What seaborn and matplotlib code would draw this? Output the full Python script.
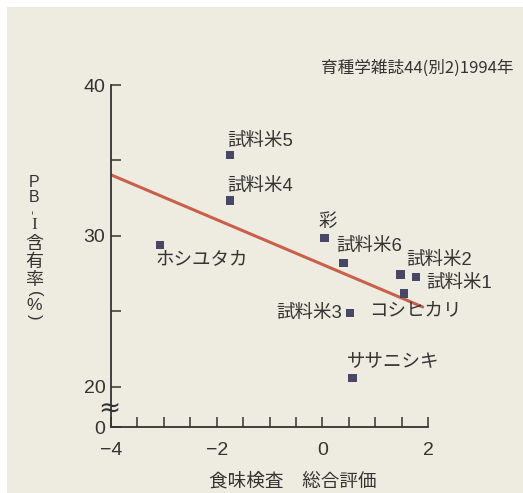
import numpy as np
import pandas as pd
import seaborn as sns
import matplotlib.pyplot as plt
from matplotlib.patches import Rectangle

# data
names = ["試料米5", "試料米4", "ホシユタカ", "彩", "試料米6", "試料米2", "試料米1", "コシヒカリ", "試料米3", "ササニシキ"]
taste_score = [-1.75, -1.75, -3.07, 0.04, 0.40, 1.48, 1.77, 1.54, 0.52, 0.57]
pb1_content = [35.35, 32.35, 29.4, 29.85, 28.2, 27.45, 27.3, 26.2, 24.9, 20.6]

fit_x = [-4.0, 1.9]
fit_y = [34.05, 25.3]

ylabel_chars = ["P", "B", "-", "I", "含", "有", "率", "(", "%", ")"]

df = pd.DataFrame({"name": names, "x": taste_score, "y": pb1_content})
fit = pd.DataFrame({"x": fit_x, "y": fit_y})

sns.set_theme(style="ticks")
plt.rcParams["font.family"] = ["Liberation Sans", "Noto Sans CJK JP", "DejaVu Sans"]

bg = "#EEECE1"
ink = "#333333"

fig = plt.figure(figsize=(5.23, 4.93), dpi=100)
fig.patch.set_facecolor("white")
fig.patches.append(Rectangle((7 / 523, 0), 1, 1 - 7 / 493, transform=fig.transFigure,
                             facecolor=bg, edgecolor="none", zorder=-10))

ax = fig.add_axes([111 / 523, 1 - 427 / 493, 317 / 523, 342 / 493])
ax.set_facecolor("none")

sns.lineplot(data=fit, x="x", y="y", color="#C9604A", linewidth=2.2, ax=ax, zorder=2)
sns.scatterplot(data=df, x="x", y="y", marker="s", s=36, color="#484866",
                edgecolor="none", ax=ax, zorder=3)

# label offsets in pixels (dx, dy, ha)
offsets = {
    "試料米5": (-3, 14, "left"),
    "試料米4": (-3, 14, "left"),
    "ホシユタカ": (-5, -15, "left"),
    "彩": (3, 16, "center"),
    "試料米6": (-7, 17, "left"),
    "試料米2": (6, 14, "left"),
    "試料米1": (10, -7, "left"),
    "コシヒカリ": (12, -17, "center"),
    "試料米3": (-8, 0, "right"),
    "ササニシキ": (-6, 16, "left"),
}
for n, x, y in zip(names, taste_score, pb1_content):
    dx, dy, ha = offsets[n]
    ax.annotate(n, (x, y), xytext=(dx, dy), textcoords="offset pixels",
                ha=ha, va="center", fontsize=13.3, color=ink)

ybot = 17.35
ax.set_xlim(-4, 2)
ax.set_ylim(ybot, 40)
ax.set_xticks([-4, -2, 0, 2])
ax.set_xticklabels(["\u22124", "\u22122", "0", "2"])
ax.set_xticks(np.arange(-3.5, 2, 0.5), minor=True)
ax.set_yticks([ybot, 20, 30, 40])
ax.set_yticklabels(["0", "20", "30", "40"])
ax.set_yticks([25, 35], minor=True)

ax.tick_params(axis="both", which="both", direction="in", length=7, width=1.1, color=ink,
               labelsize=14, labelcolor=ink)
ax.tick_params(axis="x", which="major", pad=11)
ax.tick_params(axis="y", which="major", pad=4)

for side in ["top", "right"]:
    ax.spines[side].set_visible(False)
for side in ["left", "bottom"]:
    ax.spines[side].set_color(ink)
    ax.spines[side].set_linewidth(1.3)

ax.set_xlabel("")
ax.set_ylabel("")

# axis break mark
ax.text(-0.005, (427 - 409) / 342, "≈", transform=ax.transAxes, ha="center", va="center",
        fontsize=19, color=ink, family=["DejaVu Sans"])

fig.text(293 / 523, 1 - 482 / 493, "食味検査　総合評価", ha="center", va="center",
         fontsize=13.4, color=ink, family=["Noto Sans CJK JP"])

# vertical y label, one character per line: (y centre px, size, rotation, family)
ylabel_layout = [(182.5, 11.5, 0, "Liberation Sans"), (197.5, 11.5, 0, "Liberation Sans"),
                 (212.5, 9, 90, "Liberation Sans"), (225, 12.5, 0, "Liberation Serif"),
                 (243.5, 13, 0, "Noto Sans CJK JP"), (261.5, 13, 0, "Noto Sans CJK JP"),
                 (279.5, 13, 0, "Noto Sans CJK JP"), (294, 12, -90, "Liberation Sans"),
                 (305.5, 12.5, 0, "Liberation Sans"), (317, 12, -90, "Liberation Sans")]
for ch, (py, size, rot, fam) in zip(ylabel_chars, ylabel_layout):
    fig.text(34 / 523, 1 - py / 493, ch, ha="center", va="center", rotation=rot,
             fontsize=size, color=ink, family=[fam, "Noto Sans CJK JP"])

fig.text(513 / 523, 1 - 68 / 493, "育種学雑誌44(別2)1994年", ha="right", va="center",
         fontsize=12, color=ink, family=["Noto Sans CJK JP"])

fig.savefig("out.png", dpi=100, facecolor=fig.get_facecolor())
